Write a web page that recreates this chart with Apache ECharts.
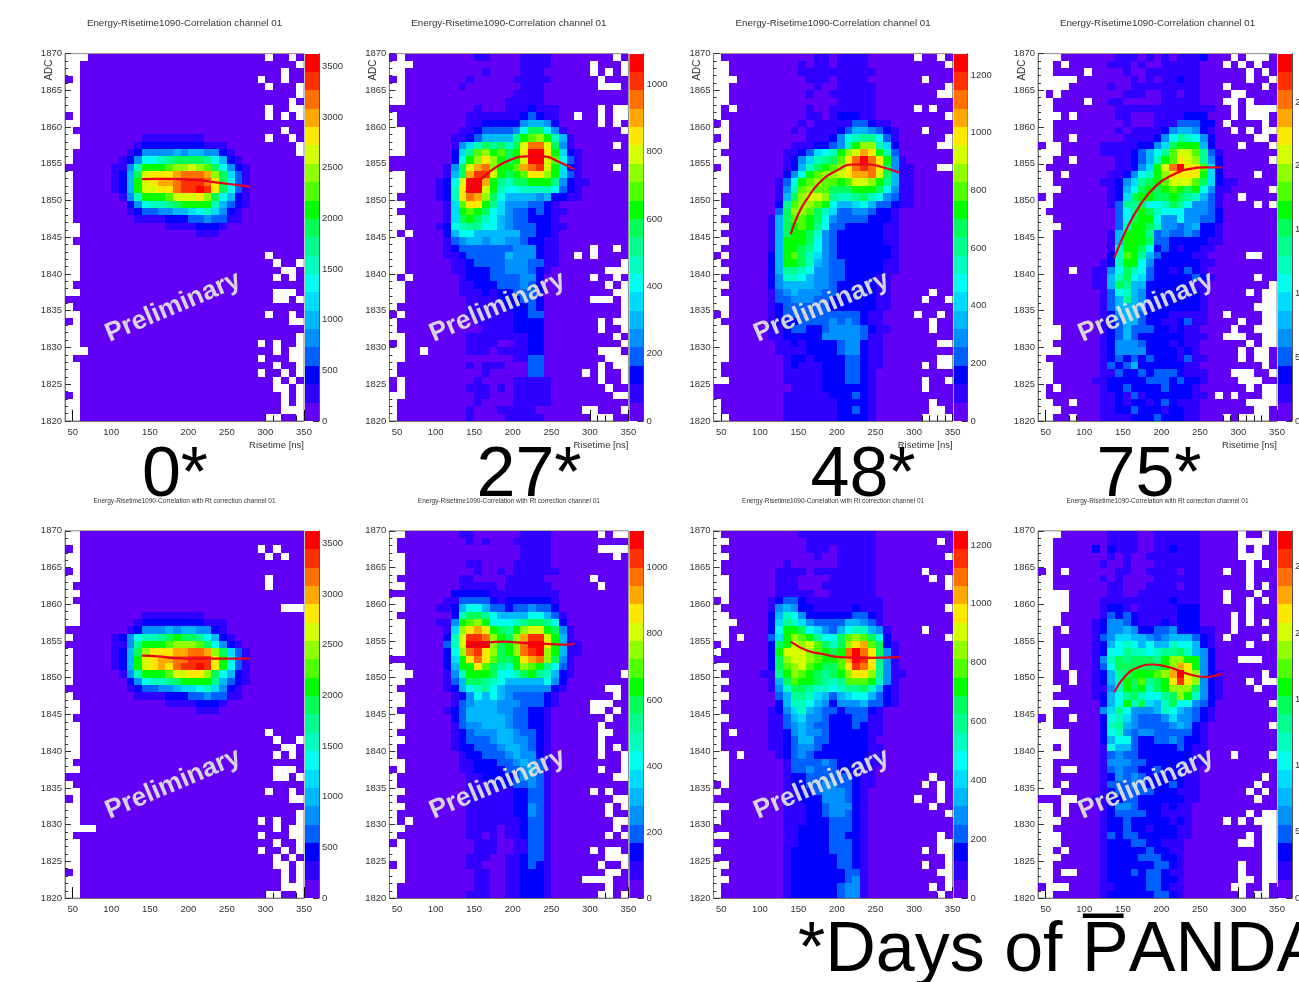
<!DOCTYPE html>
<html><head><meta charset="utf-8"><style>html,body{margin:0;padding:0;background:#fff}#c{width:1299px;height:982px}</style>
<script src="https://cdn.jsdelivr.net/npm/echarts@6/dist/echarts.min.js"></script></head>
<body><div id="c"></div>
<script>
// Cell rows, top row (1870) first. Each char = colour contour level
// (0-9, a-j = 0..19), '.' = empty bin, '~' = run of level 0 up to 31 columns. Spaces are ignored.
const day0Raw = ["...~.00.0","..~.","..~.00","0.~.00.00","..~.000.","..~.","..~.0","..~.00..","0.~.0.0.","..~",".~.00",
"..0000000011111111~.00.0","..00000001222222221110~.",".000000012444454554421~.",".00000012477 89aaaa97521~","0000001148bbbcddedca7421~",
".00000125aefffghhhgda631~",".00000125befgghiiihfa731~",".00000125beeffhiijifa731~",".000000148bbbceeefda7521~",".000000024788 9abbbb85321~",
".0000000123344556786421~",".0000000011112223343311~","..0000000000011112221~","..000000000000000111~",
".~","..~","..~.0000","..~.00.","..~..0","..~.0.0",".~","..~...0","~..0.",".~","..~.00.0","0.~..","..~","..~.","..~.0.00.","...~.0..",".0~.000..","..~.00.","..~.00.0.","..~.0.0","..~..0.","0.~.0.","..~.0.","..~0...","..~..00."];
const day27Raw = ["0.000000000110000111100000000.0","...000000000000001111~.000.","..00000000001000011100~.0.0.","0.000000001000001111100~.000","..00000001000000011100~...0","..000000000000001111~","..000000000000011111~",
"0000000000010001112111~.0..",".00000000011111112321100.00.0..",".00000000011222224554200000.0.0.","..0000000112333347aa7410000000.","..000000112355559bcdb8510000000",
"..0000001468a9a8aehhea4100000.0","..000000269cdbcabfjjfb6210~","0000000027bdfdbabejjec7310~","000000014aeghdbbcghieb621~.0","..0000015agiiebabcffdb631~","..0000127ejjgb98aabbb94211~","..0000128fjjeb87788887321~",
".00000128fhgda75555452211~","..0000016cffb96444 3321~",".00000016bcba76433232 11~","..0000016aba87543322210~","..00001278997754 333221 1~",".0.000025775555553322 10~",
"..00000134554554 43221 10~","..00000123333333444211 0000.00.0","..0000011233333544421100.0.00","..000000112333344433110~.","..000000112223344432100~...",
".0.00000012223333442000000.00.00","..000000011222333432000~.0.","..00000001112122333200~..","..00000000111122233200~...0.",".000000000111112223200~.",
"0.00000000111111223 3000~.",".000000000011111 2222000~.0..",".000000000001111222200~.00.","..0000000011111111220~.0","0.000000001111001 1220~.",
"..00.000001110111122 0~...0","..000000000000001133~...",".00000000010111000330~.0..",".00000000000100000330~.0.00.","0.0000000001000011111~.00.","0.0000000011101011111~.00","..0000000001100011111~..",".00000000001000011111~",".00000000010001111 1~..000.",".00000000010000111 11~...00"];
const day48Raw = [".00000000000011011110~.00.0","..000000000101101111~.","..0000000001111111111~","...00000000011101111~.000","..0000000000010011111~.","..0000000000100111111~..","..0000000000000011111~",".0.00000000010011111 1~.0.00",".0000000000011012221 1~.",
"0.00000000010111113 3211~","..000000001011112355432 1~.000","0.0000000000111247 899731~.","..0000000011122348bdd862~..",".00000000112367 8bdegfb83~","..000000012468 9acfhjhfb41~","0.000000012 58abcdfhihfa411~..","..0000000 247bcddefgghea511~","..000000 137bcdccbceedb9511~","..000000 148cdccaaabbba7411~",".0000000 15adeed9889a874311~",".0000000 29cddcb75567533211~","..000000 3addca863344322100~",
".000000 1 5accba743333222100~","..00000 1 5abcb9733222221100~",".000000 1 5abba8432222221100~","..00000 1 5bbba7432222221100~",".000000 1 5bba97432222222100~","0.00000 2 5bca86432222222100~",".000000 2 5bba85433222221100~","..00000 2 599874433222221100~",".000000 2 488754433222211000~","..00000 2 455554432222211000~",".000000 1 345444332222211000~.00","..00000 1 334443322222211000~.00.","..00000 1 233333322222211000~","0.00000 1 233333333332110000~.00.0",".000000 1 222333343432110000~.00","..00000 1 123322344443211000~.00","..00000 1 122222444443110000~","..00000 0 112122223442110000~..","..00000 0 111122223442110000~","..00000 0 012212222332110000~..",".000000 0 012111222332110000~.0..",".000000 0 011111222332100000~","..00000 0 011111222332100000~.00.","0000000 0 001111222222100000~.000","0000000 0 011111122232100000~",".000000 0 011111112222100000~.00",".000000 0 011111112232100000~..0","..00000 0 011111112222100000~...."];
const day75Raw = ["...0000000 111010101112~.0...0","..0.00000 111 0 1 00 11111~.0.0.00","..0000.0000 1 00 1111111~.0.0",".....0000000 1 0 1 0 11 2 11~.00.","....00000 1 00 1 11111111~.0000.0",".0.00000000 11 1 00 11 0 11~..0000","..0000.00 11 00000 11111~..0.000","..00000000 1 11111111111 1~.0....","...0.00000 11 000 1111 222~.0...0","..000000000 10001 11 333 22 0~.0000.0","..00000000 1 0 1111 2 4 55 4 2 1~.0.0..","..00.000000 1 111 2 4 7 9 8 7 4 2~..0","0..00000 11 111 22 4 6 a bbb 5 2~.000.","...00000 1111 2 3 5 7 9 c ee c 9 3 1~","..00.00000 11 2 3 5 8 b c f e d 9 4 2~.",".000000000 11 2 4 6 b e h j f f c 6 2~","..0.00000 11 2 4 7 8 b d ffff b 6 2~.00","..000000 11 2 4 6 9 a b c eee c a 6 2 11~","...000000 1 2 5 7 a b a b c b a b 7 4 1 1~.","0.0000000 1 2 6 a bb aa b a 9 8 5 3 1 00~.0000","..0000000 1 3 9 9 a 7 7 8 a 9 7 4 4 3 1~.0.",".000000000 379ba877744432~","..00000000 37abb744744332~","...0000000 38bba844345221~","..0000000 1 5bbb9343343221~","..0000000 1 5bbba332222211~","..0000000 1 8bba7232122110~","..0000000 2 8cb95322221100~..00","..000000 1 2 8bb74222222110~","..00.00 1 1 4 7a873221232100~","..00000 115 8a763222223210~.00","..00000 115 a9552222221100~.","..00000013 78542222222100~.0..","..00000013 59542222222100~..","..00000013 55542222222100~...","..00000012 45532221111100~.0000..","..00000012 35532211231100~.00..","...0000012 35333221211000~.00...","...0000012 35322222211100~...00..","..00000012 44432221211000~.0..","...0000012 44442222121000~.0..0",".000000012 32323222131100~.0..0","..00000013 23522222211000~.0","..00000011 32232333211100~...00.","..000001 1 2 22223332322100~...00",".0.00000 1 2 23222232221000~.0..",".0000000112131222222110.0.000..","..00.000 1 1 21221232111000~....","...00000 1 1 22322212211000~..0","..00.000 1 1 11222322211000~.0....0"];
const corr0Raw = ["..~","..~","0.~.0.000","..~.0.00","..~","0.~","..~.0000",".~.0000","..~",".~","..~...",
"..0000000011111111~","..00000001222222221110","00000000124445455442 1~",".000001247889abaa97521~","0000001149bbbcdddca7421~",".00000125adfffgghhgda631~",".00000125befgghhiiifb731~",".00000125befgfhiijifb731~",".000000148bbbceeffda7521~",".00000002478 89abbbb95321~","00000000123344566786421~",".0000000011112223343311~","..0000000000011112221~","..000000000000000111~",
".~","..~","..~.0000","..~.00.","..~..0","..~.0.0",".~","..~...0","~..0.",".~","..~.00.0","0.~..","..~","..~.","..~.0.00.","....~.0..",".0~.000..","..~.00.","..~.00.0.","..~.0.0","..~..0.","0.~.0.","..~.0.","..~0...","..~..00."];
const corr27Raw = ["..0000000 11 000000 1111~.0..",".000000000 1 0 1 000 11111~",".0000000000000000 1111~....","..000000000000000 1111~.0","..00000000 11 0000 11111~","..000000000 1 00 1 0 111111~",".00000000 11 0000 11111~.0000","..0000000 11111 0 111111~.000","00000000 22222 11111111 1~","..00000 1 1 3333 2 1 222222 1~","..0000 11 2 5 77 5 33 2 33 4 33 2~",".0000000 2 8 aa 9 7 5 5 5 5 77 5 3 1~","..0000 11 4bcdb77789aa972~","..00000 1 6dfgfba9bdeeba41~","..00000 2 8eiihdbadgiieb51~","..00000 3 8ejjjdabdhjjfb511~","..00000 2 7dhifdabdhijdb511~","0000000 2 6bfhfcaabfghda41~","..00000 2 5bbfca98bdcb9731~","...0000 1 48bbba778ab98521~.","..00000 1 35aa98755555742~",".000000 1 257897544444421~..0","..00000 0 12475754333321~.0","..00000 0 13455544433321~...00",".000000 1 2355554433221~..0.0","..00000 0 2355555433221~.00","..00000 0 1344555433221~.000",".000000 0 1234445543321~..00","..00000 0 1233345544321~.000",".000000 0 1223334554321~.0.0",".000000 0 0122333454421~.00.","..00000 0 0112223345431~.","0.00000 0 0112222334531~.00.",".000000 0 0011222234431~..",".000000 0 0011122233431~","..00000 0 0011111122331~.0.00",".000000 0 0011111122331~..","..00000 0 0011111122431~.0.",".000000 0 0011111122431~.00",".0.0000 0 0011111112331~..","..00000 0 0011110112331~.0",".000000 0 0011010112331~.0.","0.00000 0 0001110011331~","..00000 0 0001110011331~.0..0","..00000 0 0011100112331~...","0.00000 0 0011000112321~.00.","..00000 0 0001100112221~..0","..00000 0 0001100112221~....00",".000000 0 0001100112221~.00",".000000 0 0011100112221~..0."];
const corr48Raw = [".0000000000 1111111111~","..0000000000 111111111~.0",".00000000000 111 0 11111~","..00000000000 1 00 11111~.",".00000000 1 000000 11111~",".0000000 1111 0 11111111~.000","..000000 111 0 000 111111~.0.","..000000 111 000 1111111~.","..000000 11111 00 111111~","0.00000 1 2 33 2 1 11111111 1~",".000000 1 45422 111112111~.","..00000 2 58742 22222 3321~","...0000 2 69864 3333 554 3 1~","..00000 2 7bba7 6435 788 5 4 1~.000","..0.000 3 6bdcb 977a cdc a 7 2~.","0.00000 2 abede ca8a dfg c a 2 1~",".000000 2 beeed cbab hjh f a 4 1~","0000000 2 adeed cbbc gji f 9 4 1~","..00000 2 acdec baac fih f 9 4 1~",".00000 11 9bdcb a9ab dff d 9 4 1 1~","..00000 1 5acbb a989 ccc b 8 4 1~",".000000 1 48aa9 8878 99a 8 5 2 1~","..00000 0 35998 6535 677 5 3 2 1~",".000000 0 25887 5424 445 3 3 2 1~",".000000 1 24685 4332 333 2 1~","..00000 1 13564 4322 233 1 1~",".000000 1 13454 3322 232 1 1~",".0.0000 1 12454 4322 222 1 1~",".000000 1 12355 3322 222 1~",".000000 1 12344 3222 222 1 1~","..0.000 0 12343 2222 222 1 1~","..00000 0 01333 3432 222 1 1~","..00000 0 01334 3332 221 1~","..00000 0 01223 3333 321 1~.00","0.00000 0 01223 3443 321 1~.0.0",".000000 0 01122 3444 321~.0","0000000 0 01122 2444 321~.00.0","..00000 0 01112 2344 421~.00",".000000 0 01112 2344 321~.",".000000 0 01112 2233 321~","0000000 0 01122 2233 321~","..00000 0 01122 2233 221~.0","0000000 0 01122 2233 321~..",".000000 0 01222 2233 321~.0..","0000000 0 01222 2223 321~.","..00000 0 01222 2223 321~.00.",".000000 0 01222 2222 331~..","..00000 0 01222 2222 341~.",".000000 0 01222 2223 441~.0.",".000000 0 01222 2223 441~.0"];
const corr75Raw = ["...0000 00111100111111~.00.0","..00000 00111100111111~....0","..00000 20211100112111~.0.00","..00000 00101001111111~...00","..00000 01001000111111~.0.0","0.0.000 00011001111011~.00.000","..00000 01010000111111~.000","..00000 00110001111011~.0.0","....000 00110011111111~.000.00","....000 01111111112111~.00.0.0","....000 01221011111222~.000","...0000 01323211111222~.0.000","...0000 12443211121222~.0.0.0","..0.000 12445422334222 11~.00000","..00000 13466554345553 21~.0000.0","..00000 12578757558775 21~.000","..0.000 12779887899a85 42~","..0.000 148a9aaa9bddbb 42~...00","..0.000 137aaaaaabdgfb 42~","..00.00 1259abbbcdgjed 421~.0","..00.00 1258bac9abfifd 421~.0..","...0000 1148bab8abddda 421~.00","..00000 12579a8779adb8 421~","....000 0257b8a658a774 32~.","..00000 04697444587543 21~","0.00.00 02786433346443 21~","..00000 02895433334542 1~.","....000 02784344333332 1~","....000 02577322334322 1~","..0.000 01755322222321 1~","....000 01343322222221 1~.0000.","..00000 01444332222221 1~","..0..00 01343322322211~","..00000 01243432222211~.0","..0.000 01333432223211~.00","...0000 01233333222111~.0.0","000..00 11223322222211~.00","..0.000 01244322212110~","..0.000 01233332211110~.0..","...0000 01223222221210~.0.0...","..00000 01223221222110~..","...0000 01323322222110~.0..","...0000 01222332211100~..0..","..0.000 01222223221100~..","...0000 01222233322100~..","..00000 01222222332100~.00..","..0..00 01222323321100~.00..","..00000 01222223322100~..0..","0...000 01122223321100~..00.0","..00000 01222222332100~.0..0"];

// Fit curves: [risetime, ADC]
const fit0 = [[140,1852.9],[160,1852.95],[180,1852.95],[200,1852.85],[220,1852.7],[240,1852.4],[260,1852.15],[280,1851.9]];
const fit27 = [[139,1851.1],[157,1852.7],[175,1854.3],[196,1855.5],[218,1856],[240,1856],[261,1855.2],[280,1854.2]];
const fit48 = [[140,1845.4],[150,1848.2],[161,1850.2],[178,1852.5],[200,1854.1],[221,1854.9],[241,1854.9],[260,1854.5],[281,1853.8]];
const fit75 = [[139,1842.2],[154,1845.9],[172,1849.3],[193,1852],[215,1853.5],[237,1854.3],[258,1854.5],[279,1854.5]];
const fitC0 = [[140,1853],[160,1852.9],[180,1852.7],[200,1852.6],[220,1852.6],[240,1852.6],[260,1852.6],[280,1852.6]];
const fitC27 = [[139,1854.2],[168,1854.8],[188,1854.9],[218,1854.7],[244,1854.6],[274,1854.5],[280,1854.7]];
const fitC48 = [[140,1854.9],[161,1853.7],[183,1853.2],[204,1852.8],[239,1852.7],[281,1852.8]];
const fitC75 = [[139,1848],[154,1850.3],[172,1851.5],[189,1851.8],[211,1851.4],[232,1850.6],[258,1850.1],[279,1850.6]];

const barMaxes = [3626,1092,1274,2880,3626,1112,1248,2770];
const barSteps = [500,200,200,500,500,200,200,500];
const xMajorTicks = [50,100,150,200,250,300,350];
const xMinorTicks = [60,70,80,90,110,120,130,140,160,170,180,190,210,220,230,240,260,270,280,290,310,320,330,340];
const dayLabels = ["0*","27*","48*","75*"];
const palette = ["#6200f5","#3000ff","#0000ff","#0060ff","#0090ff","#00b8ff","#00dcff","#00fff0","#00ffbe","#00ff90","#00ff58","#00ff00","#50ff00","#90ff00","#d4ff00","#ffe800","#ffa800","#ff7000","#ff3000","#ff0000"];

const titleTop = "Energy-Risetime1090-Correlation channel 01";
const titleBottom = "Energy-Risetime1090-Correlation with Rt correction channel 01";

const panelsRaw = [day0Raw,day27Raw,day48Raw,day75Raw,corr0Raw,corr27Raw,corr48Raw,corr75Raw];
const fits = [fit0,fit27,fit48,fit75,fitC0,fitC27,fitC48,fitC75];

const COLS = 31;
function decodeRow(s){
  s = s.replace(/ /g,'');
  const i = s.indexOf('~');
  if (i >= 0) {
    const a = s.slice(0,i), b = s.slice(i+1);
    s = a + '0'.repeat(Math.max(0, COLS-a.length-b.length)) + b;
  }
  return (s + '0'.repeat(COLS)).slice(0,COLS);
}
function cells(rows){
  const out = [];
  rows.forEach((row,r)=>{
    const s = decodeRow(row);
    for (let c=0;c<COLS;c++){
      const ch = s[c];
      if (ch==='.') continue;
      const lv = parseInt(ch,20);
      if (isNaN(lv)) continue;
      out.push([40+10*c, 1869-r, lv]);
    }
  });
  return out;
}
const lefts=[65,389.4,713.6,1038], tops=[53.6,530.8], W=239, H=367.3, BW=14;
const GREY='#333', FONT='"Liberation Sans"';
const grid=[],xAxis=[],yAxis=[],series=[],title=[],graphic=[];
const plainLabel=v=>String(v);

function heatItem(params,api){
  const x=api.value(0),y=api.value(1),lv=api.value(2);
  const a=api.coord([x,y+1]),b=api.coord([x+10,y]);
  const x0=Math.round(a[0]),y0=Math.round(a[1]),x1=Math.round(b[0]),y1=Math.round(b[1]);
  return {type:'rect',shape:{x:x0,y:y0,width:x1-x0,height:y1-y0},style:{fill:palette[lv]}};
}
function barItem(params,api){
  const lo=api.value(0),hi=api.value(1),lv=api.value(2);
  const a=api.coord([0,hi]),b=api.coord([1,lo]);
  const y0=Math.round(a[1]),y1=Math.round(b[1]);
  return {type:'rect',shape:{x:a[0],y:y0,width:b[0]-a[0],height:y1-y0},style:{fill:palette[lv]}};
}

for(let p=0;p<8;p++){
  const col=p%4,row=p<4?0:1,L=lefts[col],T=tops[row];
  const g=grid.length;
  grid.push({left:L,top:T,width:W,height:H,show:true,borderColor:'#8a8a8a',borderWidth:1,backgroundColor:'transparent',outerBoundsMode:'none',containLabel:false});
  const xi=xAxis.length;
  xAxis.push({type:'value',gridIndex:g,min:40,max:350,position:'bottom',
    axisLine:{show:true,onZero:false,lineStyle:{color:'#777'}},
    splitLine:{show:false},
    axisTick:{show:true,inside:true,length:11,customValues:xMajorTicks,lineStyle:{color:'#111'}},
    axisLabel:{show:true,customValues:xMajorTicks,formatter:plainLabel,fontSize:9.5,fontFamily:FONT,color:GREY,margin:6}});
  xAxis.push({type:'value',gridIndex:g,min:40,max:350,position:'bottom',
    axisLine:{show:false,onZero:false},splitLine:{show:false},
    axisTick:{show:true,inside:true,length:5.5,customValues:xMinorTicks,lineStyle:{color:'#111'}},
    axisLabel:{show:false}});
  const yi=yAxis.length;
  yAxis.push({type:'value',gridIndex:g,min:1820,max:1870,interval:5,
    axisLine:{show:true,onZero:false,lineStyle:{color:'#777'}},splitLine:{show:false},
    axisTick:{show:true,inside:true,length:6,lineStyle:{color:'#333'}},
    minorTick:{show:true,splitNumber:5,length:3,lineStyle:{color:'#333'}},
    minorSplitLine:{show:false},
    axisLabel:{formatter:plainLabel,fontSize:9.5,fontFamily:FONT,color:GREY,margin:3}});
  series.push({type:'custom',xAxisIndex:xi,yAxisIndex:yi,coordinateSystem:'cartesian2d',renderItem:heatItem,
    data:cells(panelsRaw[p]),silent:true,progressive:0,encode:{x:0,y:1},clip:true,z:1});
  series.push({type:'line',xAxisIndex:xi,yAxisIndex:yi,data:fits[p],smooth:true,showSymbol:false,silent:true,
    lineStyle:{color:'#e6001e',width:2.2},z:3});
  // colour bar
  const gb=grid.length;
  const BL=L+240;
  grid.push({left:BL,top:T,width:BW,height:H,show:false,outerBoundsMode:'none',containLabel:false});
  const xb=xAxis.length;
  xAxis.push({type:'value',gridIndex:gb,min:0,max:1,show:false});
  const yb=yAxis.length;
  yAxis.push({type:'value',gridIndex:gb,position:'right',min:0,max:barMaxes[p],interval:barSteps[p],
    axisLine:{show:true,onZero:false,lineStyle:{color:'#555'}},splitLine:{show:false},
    axisTick:{show:true,inside:true,length:6,lineStyle:{color:'#333'}},
    axisLabel:{showMaxLabel:false,formatter:plainLabel,fontSize:9.5,fontFamily:FONT,color:GREY,margin:3}});
  const bands=palette.map((_,i)=>[barMaxes[p]*i/20,barMaxes[p]*(i+1)/20,i]);
  series.push({type:'custom',xAxisIndex:xb,yAxisIndex:yb,coordinateSystem:'cartesian2d',renderItem:barItem,
    data:bands,silent:true,encode:{y:[0,1]},clip:true,z:1});

  title.push({text:row===0?titleTop:titleBottom,left:L+114.5,top:row===0?13.5:493,textAlign:'center',
    textStyle:{fontFamily:FONT,fontSize:row===0?9.75:6.5,fontWeight:'normal',color:GREY}});
  graphic.push({type:'text',x:L+108,y:(row===0?307:784),rotation:23*Math.PI/180,z:10,silent:true,
    style:{text:'Preliminary',font:'bold 26.5px '+FONT,fill:'#dedede',align:'center',verticalAlign:'middle',opacity:0.95}});
  if(row===0){
    graphic.push({type:'text',x:L-16,y:70,rotation:Math.PI/2,z:10,silent:true,
      style:{text:'ADC',font:'10px '+FONT,fill:GREY,align:'center',verticalAlign:'middle'}});
    graphic.push({type:'text',x:L+239,y:445,z:10,silent:true,
      style:{text:'Risetime [ns]',font:'9.5px '+FONT,fill:GREY,align:'right',verticalAlign:'middle'}});
  }
}
[175,529,863,1149].forEach((cx,i)=>{
  graphic.push({type:'text',x:cx,y:477,z:20,silent:true,
    style:{text:dayLabels[i],font:'70px '+FONT,fill:'#000',align:'center',verticalAlign:'middle'}});
});
graphic.push({type:'text',x:798,y:952,z:20,silent:true,
  style:{text:'*Days of P\u0305ANDA',font:'70px '+FONT,fill:'#000',align:'left',verticalAlign:'middle'}});

const chart=echarts.init(document.getElementById('c'),null,{renderer:'canvas'});
chart.setOption({animation:false,backgroundColor:'#fff',title,grid,xAxis,yAxis,series,graphic});
</script></body></html>
